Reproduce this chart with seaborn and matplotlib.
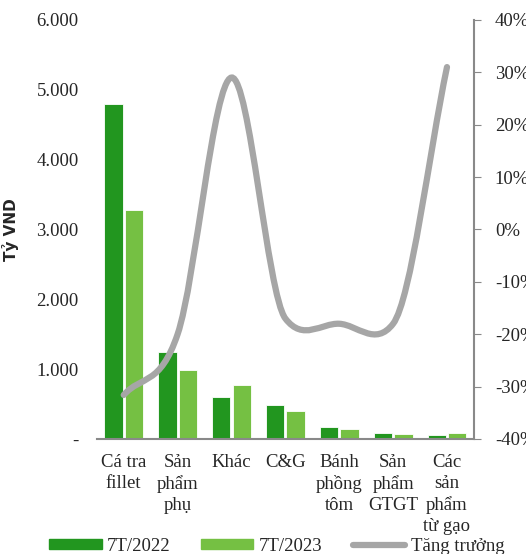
import numpy as np
import pandas as pd
import matplotlib
matplotlib.use("Agg")
import matplotlib.pyplot as plt
import seaborn as sns
from matplotlib.path import Path
from matplotlib.patches import PathPatch, Patch
from matplotlib.lines import Line2D
from matplotlib.ticker import FuncFormatter

# Data (tỷ VND)
categories = ["Cá tra\nfillet", "Sản\nphẩm\nphụ", "Khác", "C&G",
              "Bánh\nphồng\ntôm", "Sản\nphẩm\nGTGT", "Các\nsản\nphẩm\ntừ gạo"]
rev_2022 = [4800, 1240, 600, 490, 176, 90, 62]
rev_2023 = [3280, 990, 780, 405, 140, 70, 82]
growth = [-0.316, -0.20, 0.29, -0.17, -0.18, -0.18, 0.31]
series = ["7T/2022", "7T/2023"]

df = pd.DataFrame({
    "cat": categories * 2,
    "val": rev_2022 + rev_2023,
    "year": [series[0]] * 7 + [series[1]] * 7,
})

dark, light, grey, spine = "#22961f", "#75c043", "#a6a6a6", "#898989"

sns.set_style("white")
plt.rcParams["font.family"] = ["Liberation Serif", "DejaVu Serif"]
plt.rcParams["axes.unicode_minus"] = False

fig, ax = plt.subplots(figsize=(5.26, 5.54), dpi=100)
fig.subplots_adjust(left=0.184, right=0.901, top=0.964, bottom=0.2076)

sns.barplot(data=df, x="cat", y="val", hue="year", palette=[dark, light],
            saturation=1, width=0.76, gap=0.1, edgecolor="white",
            linewidth=0.6, legend=False, ax=ax)
ax.set_ylim(0, 6000)
ax.set_yticks(range(0, 6001, 1000))
ax.yaxis.set_major_formatter(FuncFormatter(
    lambda v, p: "-" if v == 0 else f"{int(v):,}".replace(",", ".")))
ax.tick_params(axis="y", length=0, pad=13, labelsize=13.5)
ax.tick_params(axis="x", length=0, pad=11, labelsize=13.5)
for lab in ax.get_xticklabels():
    lab.set_linespacing(1.3)
ax.set_xlabel("")
ax.set_ylabel("Tỷ VND", fontsize=11, fontweight="bold",
              fontfamily="DejaVu Sans")
ax.yaxis.set_label_coords(-0.205, 0.5)
for s in ["left", "top", "right"]:
    ax.spines[s].set_visible(False)
ax.spines["bottom"].set_color(spine)
ax.spines["bottom"].set_linewidth(1.5)

# growth line on the right axis
ax2 = ax.twinx()
ax2.set_ylim(-0.4, 0.4)
ax2.set_yticks([-0.4, -0.3, -0.2, -0.1, 0, 0.1, 0.2, 0.3, 0.4])
ax2.yaxis.set_major_formatter(FuncFormatter(lambda v, p: f"{round(v * 100):d}%"))
ax2.tick_params(axis="y", direction="out", length=5, color=spine,
                pad=10, labelsize=13.5)
for s in ["left", "top", "bottom"]:
    ax2.spines[s].set_visible(False)
ax2.spines["right"].set_color(spine)
ax2.spines["right"].set_linewidth(1.5)

# smoothed curve (Excel style), overshoot limited on flat stretches
xs = np.arange(len(categories), dtype=float)
ys = np.array(growth)
n = len(xs)
slope = np.zeros(n)
for i in range(n):
    lo, hi = max(i - 1, 0), min(i + 1, n - 1)
    slope[i] = (ys[hi] - ys[lo]) / (xs[hi] - xs[lo])
    dys = [abs(ys[j] - ys[i]) for j in (i - 1, i + 1) if 0 <= j < n]
    lim = max(min(dys), 0.045) * 3
    slope[i] = np.clip(slope[i], -lim, lim)
verts = [(xs[0], ys[0])]
codes = [Path.MOVETO]
for i in range(n - 1):
    d = (xs[i + 1] - xs[i]) / 3
    verts += [(xs[i] + d, ys[i] + slope[i] * d),
              (xs[i + 1] - d, ys[i + 1] - slope[i + 1] * d),
              (xs[i + 1], ys[i + 1])]
    codes += [Path.CURVE4] * 3
ax2.add_patch(PathPatch(Path(verts, codes), fill=False, edgecolor=grey,
                        lw=4.5, capstyle="round"))
ax2.set_xlim(ax.get_xlim())

handles = [Patch(color=dark), Patch(color=light),
           Line2D([], [], color=grey, lw=4.5, solid_capstyle="round")]
fig.legend(handles, series + ["Tăng trưởng"], loc="center",
           bbox_to_anchor=(0.526, 0.014), ncol=3, frameon=False,
           fontsize=13.5, handlelength=2.8, handleheight=0.5,
           columnspacing=1.6, handletextpad=0.3)

fig.savefig("out.png", dpi=100)
